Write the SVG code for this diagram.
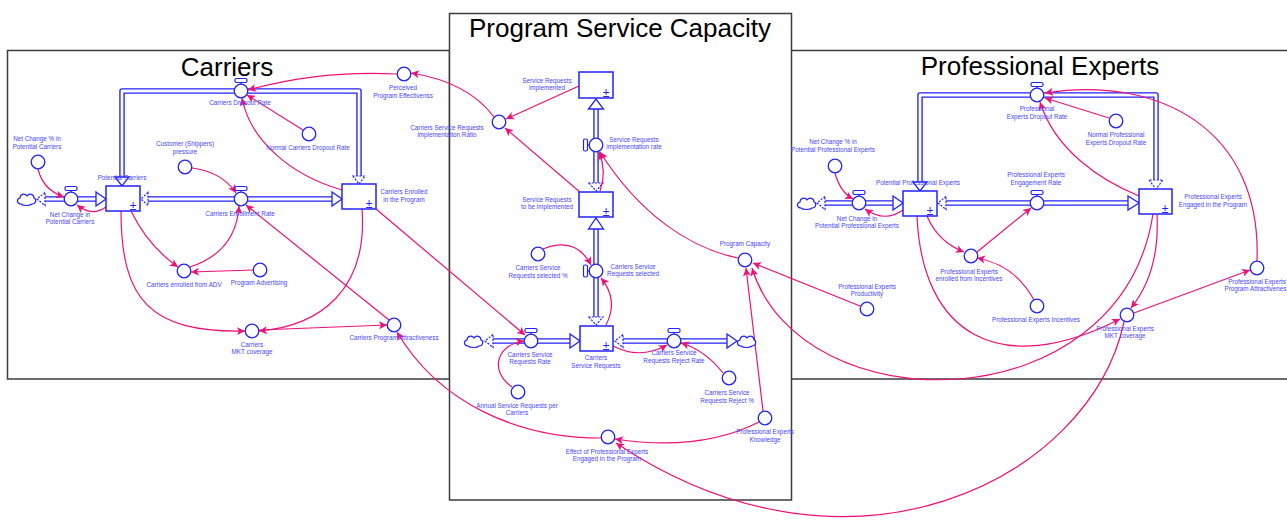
<svg xmlns="http://www.w3.org/2000/svg" xmlns:xlink="http://www.w3.org/1999/xlink" width="1287" height="521" viewBox="0 0 1287 521">
<style>
.frame{fill:#fff;stroke:#3c3c3c;stroke-width:1.5}
.title{font-family:"Liberation Sans",Arial,sans-serif;font-size:26px;fill:#000;text-anchor:middle}
.lb{font-family:"Liberation Sans",Arial,sans-serif;font-size:6.3px;fill:#4646ff;text-anchor:middle}
.pm{font-family:"Liberation Sans",Arial,sans-serif;font-size:12px;fill:#2222ff;text-anchor:middle}
.stock{fill:#fff;stroke:#2222ff;stroke-width:1.5}
.aux{fill:#fff;stroke:#2222ff;stroke-width:1.3}
.po{fill:none;stroke:#2222ff;stroke-width:5.5;stroke-linejoin:round}
.pi{fill:none;stroke:#fff;stroke-width:2.8;stroke-linejoin:round}
.ah{fill:#fff;stroke:#2222ff;stroke-width:1.3;stroke-linejoin:miter}
.ahd{fill:#fff;stroke:#2222ff;stroke-width:1.2;stroke-dasharray:2 1.4}
.cn{fill:none;stroke:#ee1177;stroke-width:1.2;marker-end:url(#ar)}
</style>
<defs>
<marker id="ar" viewBox="0 0 10 10" refX="10" refY="5" markerWidth="9" markerHeight="8" orient="auto" markerUnits="userSpaceOnUse">
<path d="M0,0 L10,5 L0,10 L2.5,5 Z" fill="#ee1177"/>
</marker>
<path id="cloud" d="M-5,5 C-9,5 -10,0 -6,-1 C-6,-5 -1,-6 1,-3 C3,-6 8,-5 8,-1 C11,0 10,5 6,5 C4,7 -3,7 -5,5 Z" fill="#fff" stroke="#2222ff" stroke-width="1.2"/>
<g id="valveH">
<rect x="-6" y="-12.5" width="12" height="4" rx="1.5" fill="#fff" stroke="#2222ff" stroke-width="1.2"/>
<line x1="0" y1="-8.5" x2="0" y2="-6.8" stroke="#2222ff" stroke-width="1.2"/>
<circle r="6.8" class="aux"/>
</g>
<g id="valveV">
<rect x="-12.5" y="-6" width="4" height="12" rx="1.5" fill="#fff" stroke="#2222ff" stroke-width="1.2"/>
<line x1="-8.5" y1="0" x2="-6.8" y2="0" stroke="#2222ff" stroke-width="1.2"/>
<circle r="6.8" class="aux"/>
</g>
</defs>
<rect width="1287" height="521" fill="#fff"/>

<g id="frames">
<rect class="frame" x="7.5" y="50.5" width="442" height="328.5"/>
<rect class="frame" x="790" y="50.5" width="510" height="328.5"/>
<rect class="frame" x="449.5" y="13.5" width="342" height="486.5"/>
<text class="title" x="227" y="76">Carriers</text>
<text class="title" x="620" y="37">Program Service Capacity</text>
<text class="title" x="1040" y="75">Professional Experts</text>
</g>

<g id="flows">
<path class="po" d="M45,199 L96,199"/><path class="pi" d="M45,199 L96,199"/>
<path class="po" d="M148,199 L332,199"/><path class="pi" d="M148,199 L332,199"/>
<path class="po" d="M359,176 L359,91 L122,91 L122,177"/><path class="pi" d="M359,176 L359,91 L122,91 L122,177"/>
<path class="po" d="M596,229 L596,317"/><path class="pi" d="M596,229 L596,317"/>
<path class="po" d="M596,109 L596,183"/><path class="pi" d="M596,109 L596,183"/>
<path class="po" d="M493,341 L570,341"/><path class="pi" d="M493,341 L570,341"/>
<path class="po" d="M623,341 L727,341"/><path class="pi" d="M623,341 L727,341"/>
<path class="po" d="M825,203 L893,203"/><path class="pi" d="M825,203 L893,203"/>
<path class="po" d="M946,203 L1128,203"/><path class="pi" d="M946,203 L1128,203"/>
<path class="po" d="M1156,180 L1156,95 L920,95 L920,182"/><path class="pi" d="M1156,180 L1156,95 L920,95 L920,182"/>
<polygon class="ahd" points="45,192.5 37,199 45,205.5"/>
<polygon class="ah" points="96,192 106,199 96,206"/>
<polygon class="ahd" points="148,192.5 141,199 148,205.5"/>
<polygon class="ah" points="332,192 342,199 332,206"/>
<polygon class="ah" points="115,177 122,186 129,177"/>
<polygon class="ahd" points="353,176 359,184 365,176"/>
<polygon class="ah" points="588.5,229 596,218 603.5,229"/>
<polygon class="ahd" points="589,317 596,325 603,317"/>
<polygon class="ah" points="588.5,109 596,99 603.5,109"/>
<polygon class="ahd" points="589,183 596,191 603,183"/>
<polygon class="ahd" points="493,334.5 485,341 493,347.5"/>
<polygon class="ah" points="570,334 580,341 570,348"/>
<polygon class="ahd" points="623,334.5 615,341 623,347.5"/>
<polygon class="ah" points="727,334 737,341 727,348"/>
<polygon class="ahd" points="825,196.5 817,203 825,209.5"/>
<polygon class="ah" points="893,196 903,203 893,210"/>
<polygon class="ahd" points="946,196.5 938,203 946,209.5"/>
<polygon class="ah" points="1128,196 1139,203 1128,210"/>
<polygon class="ah" points="913,182 920,191 927,182"/>
<polygon class="ahd" points="1149,180 1156,189 1163,180"/>
</g>

<g id="connectors">
<path class="cn" d="M38,169 Q43,190 64,197"/>
<path class="cn" d="M106,207 Q92,217 77,205"/>
<path class="cn" d="M192,168 Q222,172 236,193"/>
<path class="cn" d="M131,211 Q148,246 178,267"/>
<path class="cn" d="M190,267 Q236,252 239,206"/>
<path class="cn" d="M253,270 L191,272"/>
<path class="cn" d="M121,211 C121,300 150,333 245,331"/>
<path class="cn" d="M362,209 C368,290 320,326 259,331"/>
<path class="cn" d="M259,330 L387,325"/>
<path class="cn" d="M389,320 L246,205"/>
<path class="cn" d="M601,438 C520,438 440,405 397,332"/>
<path class="cn" d="M342,190 C290,175 250,140 242,98"/>
<path class="cn" d="M303,130 L247,95"/>
<path class="cn" d="M397,74 Q320,70 248,90"/>
<path class="cn" d="M494,117 Q468,82 411,73"/>
<path class="cn" d="M376,209 L525,335"/>
<path class="cn" d="M579,86 L506,119"/>
<path class="cn" d="M581,193 L505,128"/>
<path class="cn" d="M600,191 Q607,172 599,152"/>
<path class="cn" d="M738,258 C690,248 640,215 600,152"/>
<path class="cn" d="M543,249 Q576,236 591,265"/>
<path class="cn" d="M606,325 Q619,300 601,278"/>
<path class="cn" d="M512,387 C488,370 498,344 524,341"/>
<path class="cn" d="M613,346 Q640,360 667,345"/>
<path class="cn" d="M723,373 Q705,350 681,343"/>
<path class="cn" d="M763,411 L746,268"/>
<path class="cn" d="M759,422 Q700,452 615,439"/>
<path class="cn" d="M1124,322 C1090,480 850,600 616,443"/>
<path class="cn" d="M860,306 L753,263"/>
<path class="cn" d="M1153,214 C1120,425 800,425 752,268"/>
<path class="cn" d="M917,216 C922,335 1000,380 1120,319"/>
<path class="cn" d="M1157,214 Q1160,272 1131,308"/>
<path class="cn" d="M1134,313 L1250,270"/>
<path class="cn" d="M1257,261 C1262,130 1160,75 1045,93"/>
<path class="cn" d="M835,173 Q840,192 853,199"/>
<path class="cn" d="M903,210 Q885,223 865,209"/>
<path class="cn" d="M927,216 Q938,242 964,252"/>
<path class="cn" d="M977,252 L1031,208"/>
<path class="cn" d="M1034,300 Q1015,265 977,258"/>
<path class="cn" d="M1139,196 C1100,180 1055,150 1040,102"/>
<path class="cn" d="M1109,118 L1045,98"/>
</g>

<!-- Carriers section -->
<g id="cloud-carriers"><use href="#cloud" transform="translate(26,199)"/></g>
<g id="potential-carriers"><rect class="stock" x="106" y="186" width="34" height="25"/><text class="pm" x="133" y="210">±</text><text class="lb" x="122" y="180">Potential Carriers</text></g>
<g id="carriers-enrolled"><rect class="stock" x="342" y="184" width="34" height="25"/><text class="pm" x="369" y="208">±</text><text class="lb" x="404" y="194">Carriers Enrolled<tspan x="404" dy="8">in the Program</tspan></text></g>
<g id="net-change-carriers"><use href="#valveH" transform="translate(71,199)"/><text class="lb" x="70" y="217">Net Change in<tspan x="70" dy="7.3">Potential Carriers</tspan></text></g>
<g id="net-change-pct-carriers"><circle class="aux" cx="38" cy="162" r="6.8"/><text class="lb" x="37" y="141">Net Change % in<tspan x="37" dy="7.8">Potential Carriers</tspan></text></g>
<g id="carriers-enrollment-rate"><use href="#valveH" transform="translate(241,199)"/><text class="lb" x="240" y="216">Carriers Enrollment Rate</text></g>
<g id="carriers-dropout-rate"><use href="#valveH" transform="translate(241,91)"/><text class="lb" x="240" y="105">Carriers Dropout Rate</text></g>
<g id="customer-pressure"><circle class="aux" cx="185" cy="167" r="6.8"/><text class="lb" x="185" y="146">Customer (Shippers)<tspan x="185" dy="8">pressure</tspan></text></g>
<g id="perceived-effectiveness"><circle class="aux" cx="404" cy="74" r="6.8"/><text class="lb" x="403" y="90">Perceived<tspan x="403" dy="8">Program Effectivenss</tspan></text></g>
<g id="normal-carriers-dropout"><circle class="aux" cx="309" cy="134" r="6.8"/><text class="lb" x="308" y="150">Normal Carriers Dropout Rate</text></g>
<g id="carriers-enrolled-adv"><circle class="aux" cx="184" cy="271" r="6.8"/><text class="lb" x="184" y="287">Carriers enrolled from ADV</text></g>
<g id="program-advertising"><circle class="aux" cx="260" cy="270" r="6.8"/><text class="lb" x="259" y="285">Program Advertising</text></g>
<g id="carriers-mkt-coverage"><circle class="aux" cx="252" cy="331" r="6.8"/><text class="lb" x="252" y="347">Carriers<tspan x="252" dy="7.3">MKT coverage</tspan></text></g>
<g id="carriers-attractiveness"><circle class="aux" cx="394" cy="325" r="6.8"/><text class="lb" x="394" y="340">Carriers Program Attractiveness</text></g>

<!-- Program Service Capacity section -->
<g id="sr-implemented"><rect class="stock" x="579" y="72" width="34" height="26"/><text class="pm" x="606" y="96.5">±</text><text class="lb" x="547" y="83">Service Requests<tspan x="547" dy="7.3">implemented</tspan></text></g>
<g id="sr-ratio"><circle class="aux" cx="499" cy="122" r="6.8"/><text class="lb" x="447" y="130">Carriers Service Requests<tspan x="447" dy="7.3">implementation Ratio</tspan></text></g>
<g id="sr-impl-rate"><use href="#valveV" transform="translate(596,145)"/><text class="lb" x="634" y="142">Service Requests<tspan x="634" dy="7.3">implementation rate</tspan></text></g>
<g id="sr-to-implement"><rect class="stock" x="579" y="192" width="34" height="25"/><text class="pm" x="606" y="215.5">±</text><text class="lb" x="547" y="202">Service Requests<tspan x="547" dy="7.3">to be implemented</tspan></text></g>
<g id="csr-selected"><use href="#valveV" transform="translate(596,271)"/><text class="lb" x="633" y="269">Carriers Service<tspan x="633" dy="7.3">Requests selected</tspan></text></g>
<g id="csr-selected-pct"><circle class="aux" cx="538" cy="254" r="6.8"/><text class="lb" x="538" y="270">Carriers Service<tspan x="538" dy="7.8">Requests selected %</tspan></text></g>
<g id="cloud-csr-in"><use href="#cloud" transform="translate(473,341)"/></g>
<g id="csr-rate"><use href="#valveH" transform="translate(531,341)"/><text class="lb" x="530" y="357">Carriers Service<tspan x="530" dy="7.3">Requests Rate</tspan></text></g>
<g id="carriers-service-requests"><rect class="stock" x="580" y="326" width="33" height="25"/><text class="pm" x="606" y="349.5">±</text><text class="lb" x="596" y="360">Carriers<tspan x="596" dy="7.5">Service Requests</tspan></text></g>
<g id="csr-reject-rate"><use href="#valveH" transform="translate(674,341)"/><text class="lb" x="674" y="355">Carriers Service<tspan x="674" dy="7.5">Requests Reject Rate</tspan></text></g>
<g id="cloud-csr-out"><use href="#cloud" transform="translate(746,341)"/></g>
<g id="csr-reject-pct"><circle class="aux" cx="729" cy="378" r="6.8"/><text class="lb" x="727" y="395">Carriers Service<tspan x="727" dy="8">Requests Reject %</tspan></text></g>
<g id="annual-sr"><circle class="aux" cx="518" cy="392" r="6.8"/><text class="lb" x="517" y="408">Annual Service Requests per<tspan x="517" dy="7.3">Carriers</tspan></text></g>
<g id="program-capacity"><circle class="aux" cx="745" cy="260" r="6.8"/><text class="lb" x="745" y="246">Program Capacity</text></g>
<g id="pe-knowledge"><circle class="aux" cx="765" cy="418" r="6.8"/><text class="lb" x="765" y="434">Professional Experts<tspan x="765" dy="7.8">Knowledge</tspan></text></g>
<g id="effect-pe"><circle class="aux" cx="608" cy="437" r="6.8"/><text class="lb" x="607" y="454">Effect of Professional Experts<tspan x="607" dy="7.3">Engaged in the Program</tspan></text></g>

<!-- Professional Experts section -->
<g id="cloud-pe"><use href="#cloud" transform="translate(806,203)"/></g>
<g id="net-change-pe"><use href="#valveH" transform="translate(859,203)"/><text class="lb" x="857" y="221">Net Change in<tspan x="857" dy="7.3">Potential Professional Experts</tspan></text></g>
<g id="net-change-pct-pe"><circle class="aux" cx="835" cy="166" r="6.8"/><text class="lb" x="833" y="144">Net Change % in<tspan x="833" dy="7.5">Potential Professional Experts</tspan></text></g>
<g id="potential-pe"><rect class="stock" x="903" y="191" width="34" height="25"/><text class="pm" x="930" y="214.5">±</text><text class="lb" x="918" y="185">Potential Professional Experts</text></g>
<g id="pe-dropout-rate"><use href="#valveH" transform="translate(1037,95)"/><text class="lb" x="1037" y="111">Professional<tspan x="1037" dy="7.8">Experts Dropout Rate</tspan></text></g>
<g id="normal-pe-dropout"><circle class="aux" cx="1116" cy="121" r="6.8"/><text class="lb" x="1116" y="137">Normal Professional<tspan x="1116" dy="7.8">Experts Dropout Rate</tspan></text></g>
<g id="pe-engagement-rate"><use href="#valveH" transform="translate(1037,203)"/><text class="lb" x="1036" y="177">Professional Experts<tspan x="1036" dy="7.8">Engagement Rate</tspan></text></g>
<g id="pe-engaged"><rect class="stock" x="1139" y="189" width="33" height="25"/><text class="pm" x="1165" y="212.5">±</text><text class="lb" x="1213" y="199">Professional Experts<tspan x="1213" dy="8">Engaged in the Program</tspan></text></g>
<g id="pe-enrolled-incentives"><circle class="aux" cx="971" cy="256" r="6.8"/><text class="lb" x="969" y="274">Professional Experts<tspan x="969" dy="7.3">enrolled from Incentives</tspan></text></g>
<g id="pe-incentives"><circle class="aux" cx="1037" cy="306" r="6.8"/><text class="lb" x="1036" y="322">Professional Experts Incentives</text></g>
<g id="pe-productivity"><circle class="aux" cx="867" cy="309" r="6.8"/><text class="lb" x="867" y="289">Professional Experts<tspan x="867" dy="7.3">Productivity</tspan></text></g>
<g id="pe-mkt-coverage"><circle class="aux" cx="1127" cy="315" r="6.8"/><text class="lb" x="1125" y="331">Professional Experts<tspan x="1125" dy="7.3">MKT coverage</tspan></text></g>
<g id="pe-attractiveness"><circle class="aux" cx="1257" cy="268" r="6.8"/><text class="lb" x="1257" y="284">Professional Experts<tspan x="1257" dy="7.3">Program Attractiveness</tspan></text></g>
</svg>
